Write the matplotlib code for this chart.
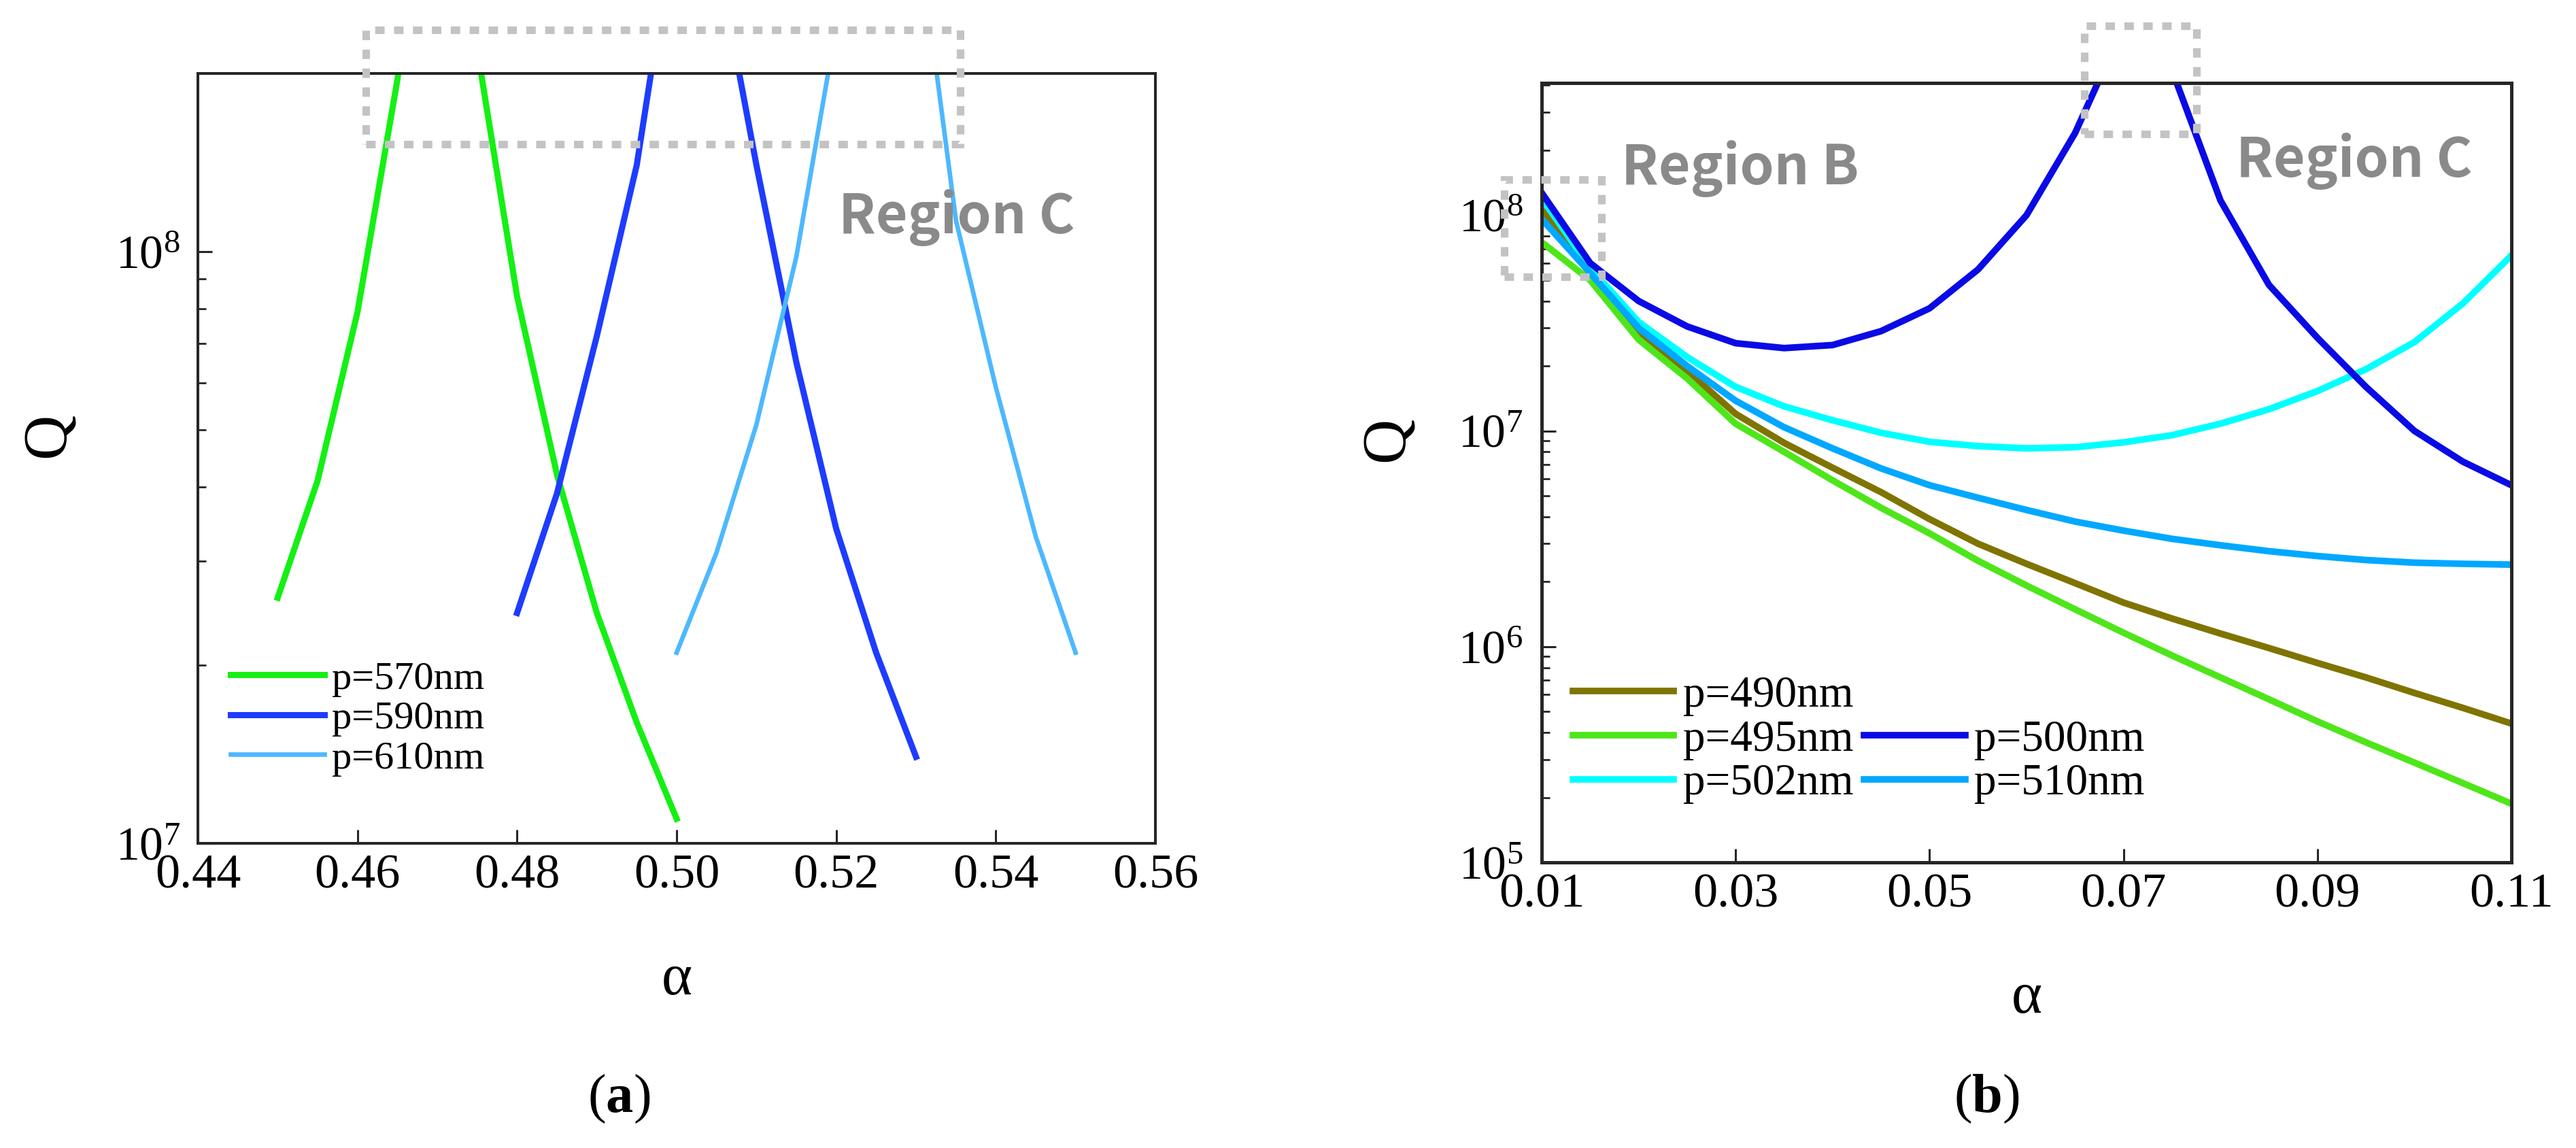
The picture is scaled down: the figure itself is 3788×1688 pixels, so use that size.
import matplotlib
matplotlib.use("Agg")
import matplotlib.pyplot as plt
from matplotlib.lines import Line2D
from matplotlib.patches import Rectangle
from matplotlib.ticker import LogLocator, NullFormatter, FixedLocator
import numpy as np

plt.rcParams['font.family'] = ['Liberation Serif', 'DejaVu Sans']
plt.rcParams['mathtext.fontset'] = 'custom'
plt.rcParams['mathtext.rm'] = 'Liberation Serif'
plt.rcParams['mathtext.it'] = 'Liberation Serif:italic'
plt.rcParams['mathtext.bf'] = 'Liberation Serif:bold'

# ---------------- data: panel (a) ----------------
alpha_570 = [0.450, 0.455, 0.460, 0.465, 0.470, 0.475, 0.480, 0.485, 0.490, 0.495, 0.500]
Q_570 = [2.6e7, 4.1e7, 7.9e7, 1.95e8, 6.0e8, 2.2e8, 8.4e7, 4.2e7, 2.45e7, 1.6e7, 1.1e7]
alpha_590 = [0.480, 0.485, 0.490, 0.495, 0.500, 0.505, 0.510, 0.515, 0.520, 0.525, 0.530]
Q_590 = [2.45e7, 3.9e7, 7.2e7, 1.4e8, 3.8e8, 3.2e8, 1.4e8, 6.5e7, 3.4e7, 2.1e7, 1.4e7]
alpha_610 = [0.500, 0.505, 0.510, 0.515, 0.520, 0.525, 0.530, 0.535, 0.540, 0.545, 0.550]
Q_610 = [2.1e7, 3.1e7, 5.1e7, 9.8e7, 2.4e8, 6.0e8, 3.7e8, 1.13e8, 5.9e7, 3.3e7, 2.1e7]
labels_a = ["p=570nm", "p=590nm", "p=610nm"]
xticks_a = [0.44, 0.46, 0.48, 0.50, 0.52, 0.54, 0.56]

# ---------------- data: panel (b) ----------------
alpha_b = [0.010, 0.015, 0.020, 0.025, 0.030, 0.035, 0.040, 0.045, 0.050, 0.055, 0.060,
           0.065, 0.070, 0.075, 0.080, 0.085, 0.090, 0.095, 0.100, 0.105, 0.110]
Q_490 = [1.06e8, 5.55e7, 2.9e7, 1.9e7, 1.2e7, 8.8e6, 6.75e6, 5.2e6, 3.9e6, 3.0e6, 2.42e6,
         1.97e6, 1.6e6, 1.35e6, 1.15e6, 9.85e5, 8.4e5, 7.2e5, 6.1e5, 5.2e5, 4.4e5]
Q_495 = [7.5e7, 5.0e7, 2.65e7, 1.75e7, 1.08e7, 8.0e6, 5.9e6, 4.4e6, 3.35e6, 2.5e6, 1.92e6,
         1.49e6, 1.16e6, 9.1e5, 7.2e5, 5.7e5, 4.5e5, 3.6e5, 2.9e5, 2.33e5, 1.87e5]
Q_500 = [1.27e8, 6.0e7, 4.0e7, 3.05e7, 2.55e7, 2.42e7, 2.5e7, 2.9e7, 3.7e7, 5.6e7, 1.0e8,
         2.4e8, 7.5e8, 4.7e8, 1.17e8, 4.75e7, 2.7e7, 1.6e7, 1.0e7, 7.2e6, 5.6e6]
Q_502 = [1.2e8, 5.7e7, 3.2e7, 2.2e7, 1.6e7, 1.3e7, 1.12e7, 9.8e6, 8.9e6, 8.5e6, 8.3e6,
         8.4e6, 8.85e6, 9.55e6, 1.08e7, 1.26e7, 1.53e7, 1.93e7, 2.58e7, 3.9e7, 6.5e7]
Q_510 = [9.6e7, 5.4e7, 3.0e7, 2.0e7, 1.38e7, 1.04e7, 8.3e6, 6.7e6, 5.6e6, 4.9e6, 4.3e6,
         3.8e6, 3.45e6, 3.16e6, 2.95e6, 2.77e6, 2.63e6, 2.52e6, 2.45e6, 2.42e6, 2.4e6]
labels_b = ["p=490nm", "p=495nm", "p=500nm", "p=502nm", "p=510nm"]
xticks_b = [0.01, 0.03, 0.05, 0.07, 0.09, 0.11]

# ---------------- figure ----------------
W, H = 3788, 1688
fig = plt.figure(figsize=(W / 100, H / 100), dpi=100)

ax1 = fig.add_axes([291 / W, 1 - 1240 / H, 1408 / W, 1132 / H])
ax2 = fig.add_axes([2267 / W, 1 - 1268 / H, 1426 / W, 1146 / H])

SPINE = '#262626'
GRAY_BOX = '#c3c3c3'
GRAY_TXT = '#8a8a8a'


def style_axes(ax, spw, ypad):
    ax.set_yscale('log')
    for s in ax.spines.values():
        s.set_linewidth(spw)
        s.set_color(SPINE)
    ax.tick_params(which='both', direction='in', top=False, right=False, color=SPINE)
    ax.tick_params(axis='x', which='major', length=14.5, width=2.2, labelsize=52, pad=11)
    ax.tick_params(axis='y', which='major', length=15, width=2.2, labelsize=50, pad=ypad)
    ax.tick_params(axis='y', which='minor', length=8.5, width=2.0)
    ax.yaxis.set_major_locator(LogLocator(base=10))
    ax.yaxis.set_minor_locator(LogLocator(base=10, subs=np.arange(2, 10)))
    ax.yaxis.set_minor_formatter(NullFormatter())
    ax.xaxis.set_minor_locator(FixedLocator([]))


# ---- panel (a) ----
c570, c590, c610 = '#14f014', '#1e3cff', '#4db8ff'
ax1.plot(alpha_570, Q_570, color=c570, lw=6.5, label=labels_a[0])
ax1.plot(alpha_590, Q_590, color=c590, lw=6.5, label=labels_a[1])
ax1.plot(alpha_610, Q_610, color=c610, lw=4.8, label=labels_a[2])
style_axes(ax1, 2.9, 19)
ax1.set_xlim(0.44, 0.56)
ax1.set_ylim(1e7, 2e8)
ax1.set_xticks(xticks_a)
ax1.set_xticklabels([f"{v:.2f}" for v in xticks_a])
ax1.set_xlabel('α', fontsize=62)
ax1.xaxis.set_label_coords(0.5, -0.178)
ax1.xaxis.label.set_va('center')
ax1.set_ylabel('Q', fontsize=66)
ax1.yaxis.set_label_coords(-0.155, 0.530)
ax1.yaxis.label.set_va('center')
ax1.legend(loc='upper left', bbox_to_anchor=(0.034, 0.237), frameon=False, fontsize=42,
           handlelength=2.36, handletextpad=0.2, labelspacing=0.1, borderpad=0,
           borderaxespad=0)
ax1.add_patch(Rectangle((0.1754, 0.908), 0.796 - 0.1754, 1.0565 - 0.908, transform=ax1.transAxes,
                        fill=False, edgecolor=GRAY_BOX, lw=8, linestyle=(0, (1.25, 1.25)),
                        clip_on=False, zorder=6))
ax1.text(0.669, 0.813, 'Region C', transform=ax1.transAxes, ha='left', va='center',
         fontsize=58, fontweight='bold', color=GRAY_TXT, family=['Noto Sans CJK SC', 'DejaVu Sans'])

# ---- panel (b) ----
c490, c495, c500, c502, c510 = '#7f7400', '#4ee61a', '#0a0ae6', '#00ffff', '#00a8ff'
l490, = ax2.plot(alpha_b, Q_490, color=c490, lw=7)
l495, = ax2.plot(alpha_b, Q_495, color=c495, lw=7)
l502, = ax2.plot(alpha_b, Q_502, color=c502, lw=7)
l510, = ax2.plot(alpha_b, Q_510, color=c510, lw=7)
l500, = ax2.plot(alpha_b, Q_500, color=c500, lw=7)
style_axes(ax2, 3.6, 20)
ax2.set_xlim(0.01, 0.11)
ax2.set_ylim(1e5, 4.1e8)
ax2.set_xticks(xticks_b)
ax2.set_xticklabels([f"{v:.2f}" for v in xticks_b])
ax2.set_xlabel('α', fontsize=62)
ax2.xaxis.set_label_coords(0.5, -0.175)
ax2.xaxis.label.set_va('center')
ax2.set_ylabel('Q', fontsize=66)
ax2.yaxis.set_label_coords(-0.158, 0.543)
ax2.yaxis.label.set_va('center')
blank = Line2D([], [], color='none')
ax2.legend([l490, l495, l502, blank, l500, l510],
           [labels_b[0], labels_b[1], labels_b[3], '', labels_b[2], labels_b[4]],
           ncol=2, loc='upper left', bbox_to_anchor=(0.032, 0.240), frameon=False, fontsize=47,
           handlelength=2.28, handletextpad=0.2, labelspacing=0.08, columnspacing=0.245,
           borderpad=0, borderaxespad=0)
ax2.add_patch(Rectangle((0.5596, 0.9346), 0.6753 - 0.5596, 1.0733 - 0.9346, transform=ax2.transAxes,
                        fill=False, edgecolor=GRAY_BOX, lw=8, linestyle=(0, (1.25, 1.25)),
                        clip_on=False, zorder=6))
ax2.add_patch(Rectangle((-0.0386, 0.7513), 0.0617 + 0.0386, 0.8760 - 0.7513, transform=ax2.transAxes,
                        fill=False, edgecolor=GRAY_BOX, lw=8, linestyle=(0, (1.25, 1.25)),
                        clip_on=False, zorder=6))
ax2.text(0.082, 0.890, 'Region B', transform=ax2.transAxes, ha='left', va='center',
         fontsize=58, fontweight='bold', color=GRAY_TXT, family=['Noto Sans CJK SC', 'DejaVu Sans'])
ax2.text(0.716, 0.8997, 'Region C', transform=ax2.transAxes, ha='left', va='center',
         fontsize=58, fontweight='bold', color=GRAY_TXT, family=['Noto Sans CJK SC', 'DejaVu Sans'])

# ---- panel captions ----
fig.text(910 / W, 1 - 1616 / H, '(' + r'$\mathbf{a}$' + ')', ha='center', va='center', fontsize=58)
fig.text(2921 / W, 1 - 1616 / H, '(' + r'$\mathbf{b}$' + ')', ha='center', va='center', fontsize=58)

fig.savefig('out.png', dpi=100, facecolor='white')
